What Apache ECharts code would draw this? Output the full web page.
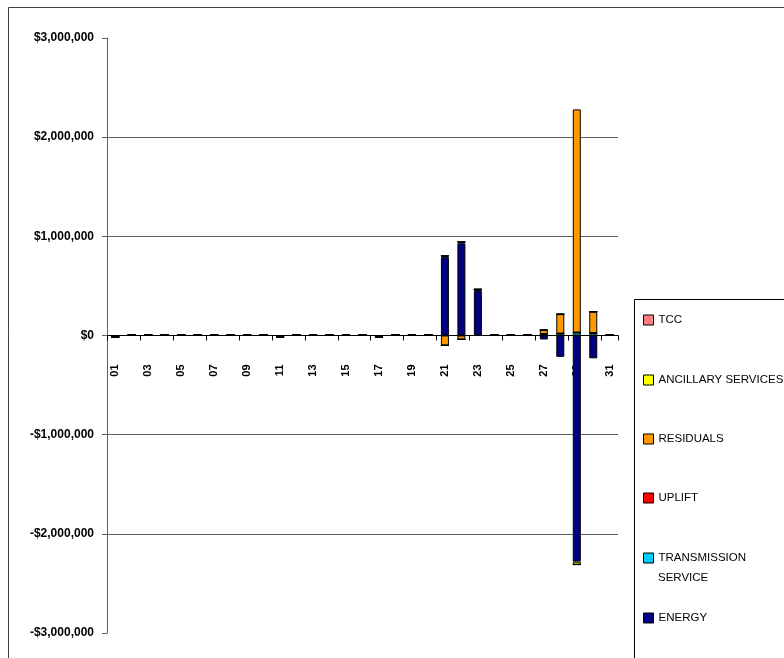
<!DOCTYPE html>
<html>
<head>
<meta charset="utf-8">
<script src="https://cdn.jsdelivr.net/npm/echarts@6/dist/echarts.min.js"></script>
<style>html,body{margin:0;padding:0;background:#fff}#c{width:784px;height:658px}</style>
</head>
<body>
<div id="c"></div>
<script>
const days = ['01','02','03','04','05','06','07','08','09','10','11','12','13','14','15','16','17','18','19','20','21','22','23','24','25','26','27','28','29','30','31'];
const yTicks = [-3000000,-2000000,-1000000,0,1000000,2000000,3000000];
const energy =       [-14000,6000,6000,6000,6000,6000,6000,6000,6000,6000,-14000,6000,6000,6000,6000,6000,-14000,6000,6000,6000,790000,930000,450000,6000,6000,6000,-40000,-215000,-2280000,-230000,6000];
const transmission = [0,0,0,0,0,0,0,0,0,0,0,0,0,0,0,0,0,0,0,0,15000,15000,15000,0,0,0,15000,20000,30000,25000,0];
const uplift =       [0,0,0,0,0,0,0,0,0,0,0,0,0,0,0,0,0,0,0,0,0,0,0,0,0,0,0,0,0,0,0];
const residuals =    [0,0,0,0,0,0,0,0,0,0,0,0,0,0,0,0,0,0,0,0,-100000,-40000,0,0,0,0,40000,195000,2250000,215000,0];
const ancillary =    [0,0,0,0,0,0,0,0,0,0,0,0,0,0,0,0,0,0,0,0,0,0,0,0,0,0,0,0,-30000,0,0];
const tcc =          [0,0,0,0,0,0,0,0,0,0,0,0,0,0,0,0,0,0,0,0,0,0,0,0,0,0,0,0,0,0,0];

const names = ['TCC','ANCILLARY SERVICES','RESIDUALS','UPLIFT','TRANSMISSION SERVICE','ENERGY'];
const colors = {'TCC':'#FF8080','ANCILLARY SERVICES':'#FFFF00','RESIDUALS':'#FF9900','UPLIFT':'#FF0000','TRANSMISSION SERVICE':'#00CCFF','ENERGY':'#000080'};
const seriesData = [['ENERGY',energy],['TRANSMISSION SERVICE',transmission],['UPLIFT',uplift],['RESIDUALS',residuals],['ANCILLARY SERVICES',ancillary],['TCC',tcc]];

function money(v){
  const s = Math.abs(v).toString().replace(/\B(?=(\d{3})+(?!\d))/g, ',');
  return (v<0?'-':'') + '$' + s;
}

const FONT = 'Liberation Sans, Arial, sans-serif';
const legendCenters = [320, 380, 439, 498, 558, 618];
const legends = names.map((n,i)=>({
  data:[n],
  left:643, top:legendCenters[i]-6,
  orient:'vertical',
  itemWidth:10, itemHeight:10,
  icon:'rect',
  padding:0,
  selectedMode:false,
  formatter: n==='TRANSMISSION SERVICE' ? 'TRANSMISSION' : '{name}',
  textStyle:{fontFamily:FONT, fontSize:11.5, color:'#000', lineHeight:12},
  itemStyle:{borderColor:'#000', borderWidth:1}
}));

const chart = echarts.init(document.getElementById('c'));
chart.setOption({
  animation:false,
  backgroundColor:'#fff',
  graphic:[
    {type:'rect', shape:{x:8.5,y:7.5,width:800,height:700}, style:{fill:'none', stroke:'#404040', lineWidth:1}, silent:true, z:-1},
    {type:'rect', shape:{x:634.5,y:299.5,width:200,height:400}, style:{fill:'#fff', stroke:'#000', lineWidth:1}, silent:true, z:0},
    {type:'text', left:658, top:572, style:{text:'SERVICE', font:'11.5px ' + FONT, fill:'#000'}, silent:true, z:5}
  ],
  legend: legends,
  grid:{left:107, right:166, top:38, bottom:25, containLabel:false},
  xAxis:{
    type:'category', data:days,
    offset:-297.5,
    axisLine:{onZero:false, lineStyle:{color:'#000', width:1}},
    axisTick:{show:true, interval:1, length:5, inside:false, lineStyle:{color:'#000'}},
    axisLabel:{interval:1, rotate:90, margin:29, fontFamily:FONT, fontWeight:'bold', fontSize:11, color:'#000'},
    splitLine:{show:false}
  },
  yAxis:{
    type:'value', min:yTicks[0], max:yTicks[yTicks.length-1], interval:1000000,
    axisLine:{show:true, lineStyle:{color:'#606060', width:1}},
    axisTick:{show:true, length:5, lineStyle:{color:'#606060'}},
    axisLabel:{formatter:money, margin:13, fontFamily:FONT, fontWeight:'bold', fontSize:12, color:'#000'},
    splitLine:{show:true, showMinLine:false, showMaxLine:false, lineStyle:{color:'#606060', width:1}}
  },
  series: seriesData.map(([n,d])=>({
    name:n, type:'bar', stack:'total', data:d,
    barWidth:8,
    itemStyle:{color:colors[n], borderColor:'#000', borderWidth:1},
    emphasis:{disabled:true}
  }))
});
</script>
</body>
</html>
